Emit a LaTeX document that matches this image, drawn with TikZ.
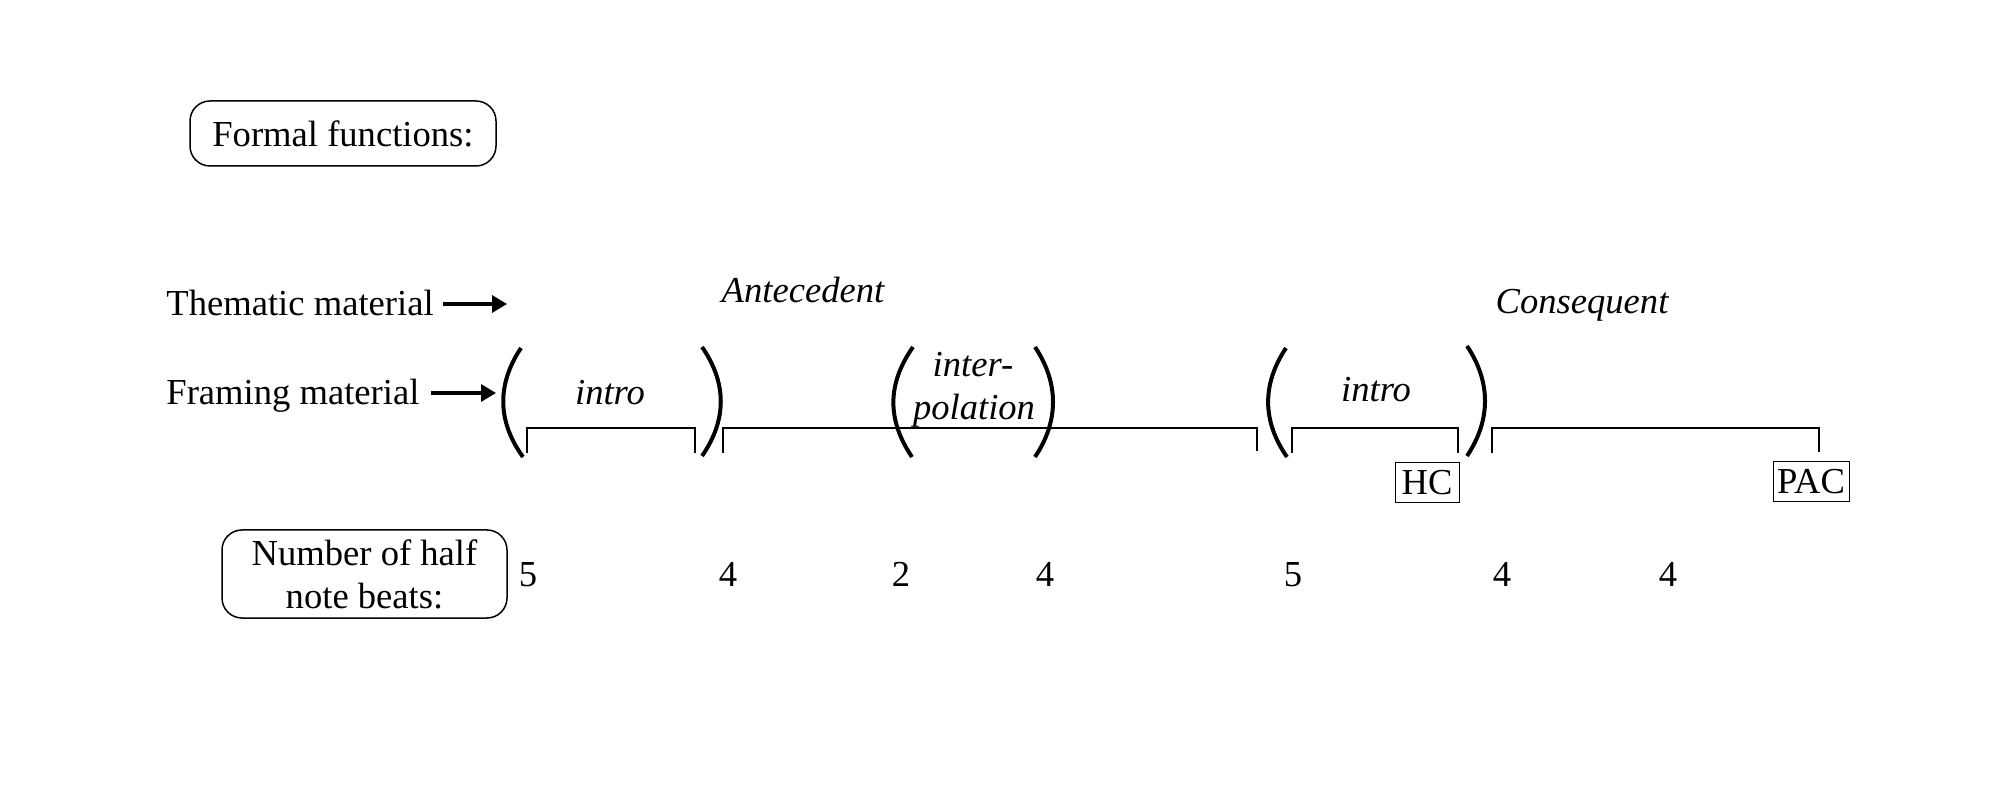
\documentclass[tikz,border=0pt]{standalone}
\usepackage{fontspec}
\setmainfont{Liberation Serif}
\usetikzlibrary{arrows.meta}
\begin{document}
\begin{tikzpicture}[x=0.5pt,y=-0.5pt,
  every node/.style={inner sep=0pt, font=\fontsize{18.3}{21.5}\selectfont},
  rbox/.style={draw, line width=0.75pt, rounded corners=10pt, align=center},
  cadbox/.style={draw, line width=0.5pt, minimum height=20pt, inner xsep=1.2pt},
  itl/.style={font=\fontsize{18.3}{21.5}\selectfont\itshape, anchor=base},
  num/.style={anchor=base},
  arr/.style={line width=1.6pt, -{Triangle[length=7.5pt,width=8.5pt]}},
  paren/.style={line width=2pt},
  brk/.style={line width=1pt}
]
\useasboundingbox (0,0) rectangle (1996,790);

% boxes on the left
\node[rbox, minimum width=153pt, minimum height=32.5pt] (ff) at (343,133.5) {Formal functions:};
\node[rbox, minimum width=142.5pt, minimum height=44pt] (nb) at (364.5,574) {Number of half\\note beats:};

% row labels and arrows
\node[anchor=base west] (them) at (166,316) {Thematic material};
\node[anchor=base west] (fram) at (166,405) {Framing material};
\coordinate (themend) at (507,304);
\coordinate (framend) at (496,393);
\draw[arr, shorten <=4.5pt] (them.east |- themend) -- (themend);
\draw[arr, shorten <=5.5pt] (fram.east |- framend) -- (framend);

% thematic material
\node[itl] (ant) at (803,303) {Antecedent};
\node[itl] (cons) at (1582,314) {Consequent};

% framing material
\node[itl] (intro1) at (610,405) {intro};
\node[itl] (interA) at (973,377) {inter-};
\node[itl] (interB) at (974,420) {polation};
\node[itl] (intro2) at (1376,402) {intro};

% parentheses
\draw[paren] (521,348) .. controls (497,384) and (497,421) .. (523,457);
\draw[paren] (702,347) .. controls (727,383) and (727,420) .. (702,456);
\draw[paren] (913,347) .. controls (887,384) and (887,420) .. (912,457);
\draw[paren] (1035,347) .. controls (1059,383) and (1059,421) .. (1035,457);
\draw[paren] (1286,348) .. controls (1262,384) and (1262,421) .. (1287,457);
\draw[paren] (1467,346) .. controls (1491,382) and (1491,420) .. (1467,456);

% brackets
\draw[brk] (527,453) -- (527,428) -- (695,428) -- (695,453);
\draw[brk] (723,453) -- (723,428) -- (1257,428) -- (1257,451);
\draw[brk] (1292,453) -- (1292,428) -- (1458,428) -- (1458,453);
\draw[brk] (1492,453) -- (1492,428) -- (1819,428) -- (1819,452);

% cadences
\node[cadbox, minimum width=32pt] (hc) at (1427,483) {HC};
\node[cadbox, minimum width=38pt] (pac) at (1811,482) {PAC};

% numbers of half note beats
\node[num] (n1) at (528,586) {5};
\node[num] (n2) at (728,586) {4};
\node[num] (n3) at (901,586) {2};
\node[num] (n4) at (1045,586) {4};
\node[num] (n5) at (1293,586) {5};
\node[num] (n6) at (1502,586) {4};
\node[num] (n7) at (1668,586) {4};
\end{tikzpicture}
\end{document}
